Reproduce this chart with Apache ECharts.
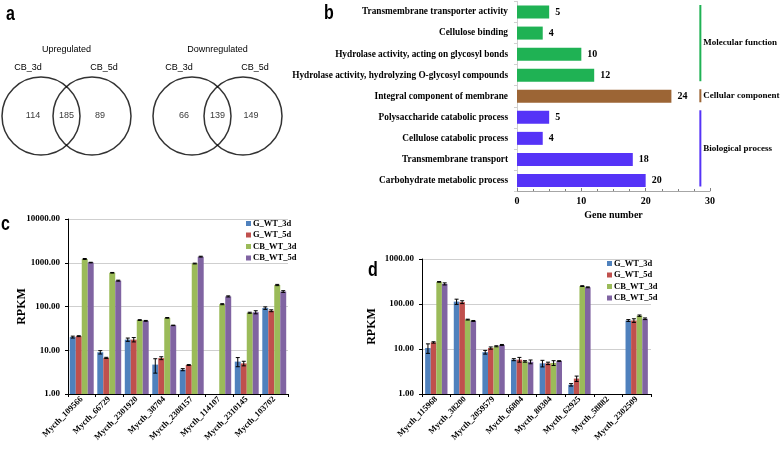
<!DOCTYPE html>
<html><head><meta charset="utf-8">
<script src="https://cdn.jsdelivr.net/npm/echarts@6/dist/echarts.min.js"></script>
<style>html,body{margin:0;padding:0;background:#fff}#c{width:784px;height:453px}</style>
</head><body><div id="c"></div>
<script>
// ---------- Panel a: Venn ----------
const vennTitles = ['Upregulated', 'Downregulated'];
const vennSetNames = ['CB_3d', 'CB_5d'];
const vennOnlyFirst = [114, 66];
const vennShared = [185, 139];
const vennOnlySecond = [89, 149];

// ---------- Panel b: GO terms ----------
const goTerms = ['Transmembrane transporter activity', 'Cellulose binding',
  'Hydrolase activity, acting on glycosyl bonds', 'Hydrolase activity, hydrolyzing O-glycosyl compounds',
  'Integral component of membrane', 'Polysaccharide catabolic process', 'Cellulose catabolic process',
  'Transmembrane transport', 'Carbohydrate metabolic process'];
const goCounts = [5, 4, 10, 12, 24, 5, 4, 18, 20];
const goGroupOfTerm = [0, 0, 0, 0, 1, 2, 2, 2, 2];
const goGroupNames = ['Molecular function', 'Cellular component', 'Biological process'];
const goGroupRanges = [[0, 3], [4, 4], [5, 8]];
const goTicks = [0, 10, 20, 30];

// ---------- Panel c ----------
const seriesNames = ['G_WT_3d', 'G_WT_5d', 'CB_WT_3d', 'CB_WT_5d'];
const genesC = ['Mycth_109566', 'Mycth_66729', 'Mycth_2301920', 'Mycth_38704', 'Mycth_2308157', 'Mycth_114107', 'Mycth_2310145', 'Mycth_103702'];
const cG3 = [20, 9, 17.5, 4.7, 3.6, null, 5.5, 92];
const cG5 = [21, 6.7, 17.5, 6.6, 4.6, null, 5.0, 80];
const cCB3 = [1220, 590, 49, 55, 960, 113, 72, 310];
const cCB5 = [1010, 390, 47, 37, 1380, 170, 74, 220];
const cG3err = [1, 0.8, 1.5, 1.7, 0.2, null, 1.3, 6];
const cG5err = [0.5, 0.2, 2, 0.5, 0.1, null, 0.6, 4];
const cCB3err = [30, 10, 1, 1, 20, 3, 2, 10];
const cCB5err = [15, 10, 1, 0.5, 30, 5, 6, 10];
const cTicks = [1, 10, 100, 1000, 10000];

// ---------- Panel d ----------
const genesD = ['Mycth_115968', 'Mycth_38200', 'Mycth_2059579', 'Mycth_66804', 'Mycth_80304', 'Mycth_62925', 'Mycth_58882', 'Mycth_2302509'];
const dG3 = [10.5, 113, 8.5, 5.8, 4.8, 1.6, null, 43];
const dG5 = [14, 110, 10.5, 5.8, 4.8, 2.2, null, 43];
const dCB3 = [310, 45, 11.5, 5.3, 4.9, 250, null, 55];
const dCB5 = [280, 42, 12.3, 5.2, 5.4, 235, null, 47];
const dG3err = [2.5, 15, 0.8, 0.3, 0.8, 0.1, null, 2];
const dG5err = [0.5, 8, 0.6, 0.7, 0.3, 0.3, null, 4];
const dCB3err = [5, 1, 0.3, 0.2, 0.6, 5, null, 2];
const dCB5err = [15, 1, 0.3, 0.5, 0.1, 5, null, 2];
const dTicks = [1, 10, 100, 1000];

// ---------- styles ----------
const SERIF = '"Liberation Serif", "Times New Roman", serif';
const SANS = '"Liberation Sans", Arial, sans-serif';
const goColors = ['#1fb254', '#9c6535', '#5533f7'];
const barColors = ['#4f81bd', '#c0504d', '#9bbb59', '#8064a2'];

const chart = echarts.init(document.getElementById('c'), null, {renderer: 'canvas'});

// Venn layout (pixel-space hidden grid)
const vennCentersX = [66.5, 217.5];
const vennR = 39, vennDx = 25.5, vennCy = 116;
const circleData = [], numberData = [], venTextGraphics = [];
vennTitles.forEach((t, k) => {
  const cx = vennCentersX[k];
  circleData.push([cx - vennDx, vennCy], [cx + vennDx, vennCy]);
  numberData.push([cx - vennDx - 8, vennCy, vennOnlyFirst[k]]);
  numberData.push([cx, vennCy, vennShared[k]]);
  numberData.push([cx + vennDx + 8, vennCy, vennOnlySecond[k]]);
  venTextGraphics.push({type: 'text', style: {x: cx, y: 50, text: t, textAlign: 'center', textVerticalAlign: 'middle', font: '9px ' + SANS, fill: '#000'}});
  venTextGraphics.push({type: 'text', style: {x: cx - vennDx - 13, y: 68, text: vennSetNames[0], textAlign: 'center', textVerticalAlign: 'middle', font: '9px ' + SANS, fill: '#000'}});
  venTextGraphics.push({type: 'text', style: {x: cx + vennDx + 12, y: 68, text: vennSetNames[1], textAlign: 'center', textVerticalAlign: 'middle', font: '9px ' + SANS, fill: '#000'}});
});

function letter(t, x, y) {
  return {type: 'text', x: x, y: y, scaleX: 0.8, style: {x: 0, y: 0, text: t, textAlign: 'left', textVerticalAlign: 'middle', font: 'bold 20px ' + SANS, fill: '#000'}};
}

function logFmt(v) { return Number(v).toFixed(2); }

function errSeries(gridIdx, vals, errs, idx, gapFrac) {
  const data = [];
  vals.forEach((v, i) => { if (v != null && errs[i] != null) data.push([i, v, errs[i]]); });
  return {
    type: 'custom', xAxisIndex: gridIdx, yAxisIndex: gridIdx, silent: true, z: 5,
    data: data,
    renderItem: function (params, api) {
      const i = api.value(0), v = api.value(1), e = api.value(2);
      const bw = api.size([1, 1])[0];
      const barW = bw * (1 - gapFrac) / 4;
      const c = api.coord([i, v]);
      const x = c[0] + (idx - 1.5) * barW;
      const lo = api.coord([i, Math.max(v - e, 1.0001)])[1];
      const hi = api.coord([i, v + e])[1];
      const cap = 2;
      const st = {stroke: '#000', lineWidth: 1};
      return {type: 'group', children: [
        {type: 'line', shape: {x1: x, y1: lo, x2: x, y2: hi}, style: st},
        {type: 'line', shape: {x1: x - cap, y1: hi, x2: x + cap, y2: hi}, style: st},
        {type: 'line', shape: {x1: x - cap, y1: lo, x2: x + cap, y2: lo}, style: st}
      ]};
    }
  };
}

function barSeries(gridIdx, name, vals, idx, gapPct) {
  return {
    type: 'bar', name: name, xAxisIndex: gridIdx, yAxisIndex: gridIdx,
    data: vals.map(v => v == null ? '-' : v),
    barGap: '0%', barCategoryGap: gapPct,
    itemStyle: {color: barColors[idx]}, silent: true
  };
}

const catAxisLabel = {fontFamily: SERIF, fontWeight: 'bold', fontSize: 8.5, color: '#000', rotate: 45, margin: 4, interval: 0};
const logYLabel = {fontFamily: SERIF, fontWeight: 'bold', fontSize: 9, color: '#000', formatter: logFmt, margin: 8};
const legendText = {fontFamily: SERIF, fontWeight: 'bold', fontSize: 8.5, color: '#000', padding: [0, 0, 0, -3]};

const option = {
  animation: false,
  backgroundColor: '#fff',
  graphic: [letter('a', 6, 14), letter('b', 324, 13), letter('c', 1, 224), letter('d', 368, 270)].concat(venTextGraphics),
  grid: [
    {left: 0, top: 0, width: 784, height: 453},           // 0 venn
    {left: 517, top: 1.5, width: 193, height: 189.5},      // 1 GO bars
    {left: 68, top: 219, width: 220, height: 175},         // 2 panel c
    {left: 422, top: 259, width: 229, height: 135}         // 3 panel d
  ],
  xAxis: [
    {gridIndex: 0, type: 'value', min: 0, max: 784, show: false},
    {gridIndex: 1, type: 'value', min: goTicks[0], max: goTicks[goTicks.length - 1], interval: 10,
      axisLine: {show: true, lineStyle: {color: '#a6a6a6'}}, axisTick: {show: true, inside: true, length: 3, lineStyle: {color: '#808080'}},
      minorTick: {show: true, splitNumber: 4, length: 2, lineStyle: {color: '#808080'}},
      splitLine: {show: false},
      axisLabel: {fontFamily: SERIF, fontWeight: 'bold', fontSize: 10, color: '#000', margin: 5},
      name: 'Gene number', nameLocation: 'middle', nameGap: 19,
      nameTextStyle: {fontFamily: SERIF, fontWeight: 'bold', fontSize: 10, color: '#000'}},
    {gridIndex: 2, type: 'category', data: genesC, boundaryGap: true,
      axisLine: {lineStyle: {color: '#000'}}, axisTick: {show: true, length: 3, lineStyle: {color: '#000'}},
      axisLabel: catAxisLabel},
    {gridIndex: 3, type: 'category', data: genesD, boundaryGap: true,
      axisLine: {lineStyle: {color: '#000'}}, axisTick: {show: true, length: 3, lineStyle: {color: '#000'}},
      axisLabel: catAxisLabel}
  ],
  yAxis: [
    {gridIndex: 0, type: 'value', min: 0, max: 453, inverse: true, show: false},
    {gridIndex: 1, type: 'category', data: goTerms, inverse: true,
      axisLine: {show: true, lineStyle: {color: '#d0d0d0'}}, axisTick: {show: true, length: 3, lineStyle: {color: '#d0d0d0'}},
      axisLabel: {fontFamily: SERIF, fontWeight: 'bold', fontSize: 9.3, color: '#000', margin: 9}},
    {gridIndex: 2, type: 'log', logBase: 10, min: cTicks[0], max: cTicks[cTicks.length - 1],
      axisLine: {show: true, lineStyle: {color: '#000'}}, axisTick: {show: true, length: 3, lineStyle: {color: '#000'}},
      splitLine: {show: true, lineStyle: {color: '#cfcfcf'}},
      axisLabel: logYLabel,
      name: 'RPKM', nameLocation: 'middle', nameGap: 40, nameRotate: 90, nameMoveOverlap: false,
      nameTextStyle: {fontFamily: SERIF, fontWeight: 'bold', fontSize: 12, color: '#000'}},
    {gridIndex: 3, type: 'log', logBase: 10, min: dTicks[0], max: dTicks[dTicks.length - 1],
      axisLine: {show: true, lineStyle: {color: '#000'}}, axisTick: {show: true, length: 3, lineStyle: {color: '#000'}},
      splitLine: {show: true, lineStyle: {color: '#cfcfcf'}},
      axisLabel: logYLabel,
      name: 'RPKM', nameLocation: 'middle', nameGap: 44, nameRotate: 90, nameMoveOverlap: false,
      nameTextStyle: {fontFamily: SERIF, fontWeight: 'bold', fontSize: 12, color: '#000'}}
  ],
  legend: [
    {data: seriesNames, orient: 'vertical', left: 241, top: 214, itemWidth: 5, itemHeight: 5, itemGap: 2.5,
      icon: 'rect', selectedMode: false, textStyle: legendText},
    {data: seriesNames, orient: 'vertical', left: 602, top: 254, itemWidth: 5, itemHeight: 5, itemGap: 2.5,
      icon: 'rect', selectedMode: false, textStyle: legendText}
  ],
  series: [
    {type: 'scatter', xAxisIndex: 0, yAxisIndex: 0, data: circleData, symbolSize: vennR * 2, silent: true,
      itemStyle: {color: 'rgba(0,0,0,0)', borderColor: '#000', borderWidth: 1.5}},
    {type: 'scatter', xAxisIndex: 0, yAxisIndex: 0, data: numberData, symbolSize: 0, silent: true,
      label: {show: true, position: 'inside', formatter: p => String(p.value[2]), fontFamily: SANS, fontSize: 9, color: '#000'}},
    {type: 'bar', xAxisIndex: 1, yAxisIndex: 1, barWidth: 13, silent: true,
      data: goCounts.map((v, i) => ({value: v, itemStyle: {color: goColors[goGroupOfTerm[i]]}})),
      label: {show: true, position: 'right', distance: 6, fontFamily: SERIF, fontWeight: 'bold', fontSize: 10, color: '#000'}},
    {type: 'custom', xAxisIndex: 1, yAxisIndex: 1, silent: true,
      data: goGroupRanges.map((r, g) => [28.5, r[0], r[1], g]),
      renderItem: function (params, api) {
        const x = api.coord([api.value(0), api.value(1)])[0];
        const band = api.size([0, 1])[1];
        const y1 = api.coord([0, api.value(1)])[1] - band / 2 + 3.5;
        const y2 = api.coord([0, api.value(2)])[1] + band / 2 - 4.5;
        const g = api.value(3);
        return {type: 'group', children: [
          {type: 'line', shape: {x1: x, y1: y1, x2: x, y2: y2}, style: {stroke: goColors[g], lineWidth: 2}},
          {type: 'text', style: {x: x + 3, y: (y1 + y2) / 2, text: goGroupNames[g], textAlign: 'left', textVerticalAlign: 'middle',
            font: 'bold 9px ' + SERIF, fill: '#000'}}
        ]};
      }},
    barSeries(2, seriesNames[0], cG3, 0, '13%'),
    barSeries(2, seriesNames[1], cG5, 1, '13%'),
    barSeries(2, seriesNames[2], cCB3, 2, '13%'),
    barSeries(2, seriesNames[3], cCB5, 3, '13%'),
    errSeries(2, cG3, cG3err, 0, 0.13),
    errSeries(2, cG5, cG5err, 1, 0.13),
    errSeries(2, cCB3, cCB3err, 2, 0.13),
    errSeries(2, cCB5, cCB5err, 3, 0.13),
    barSeries(3, seriesNames[0], dG3, 0, '22%'),
    barSeries(3, seriesNames[1], dG5, 1, '22%'),
    barSeries(3, seriesNames[2], dCB3, 2, '22%'),
    barSeries(3, seriesNames[3], dCB5, 3, '22%'),
    errSeries(3, dG3, dG3err, 0, 0.22),
    errSeries(3, dG5, dG5err, 1, 0.22),
    errSeries(3, dCB3, dCB3err, 2, 0.22),
    errSeries(3, dCB5, dCB5err, 3, 0.22)
  ]
};
chart.setOption(option);
</script></body></html>
